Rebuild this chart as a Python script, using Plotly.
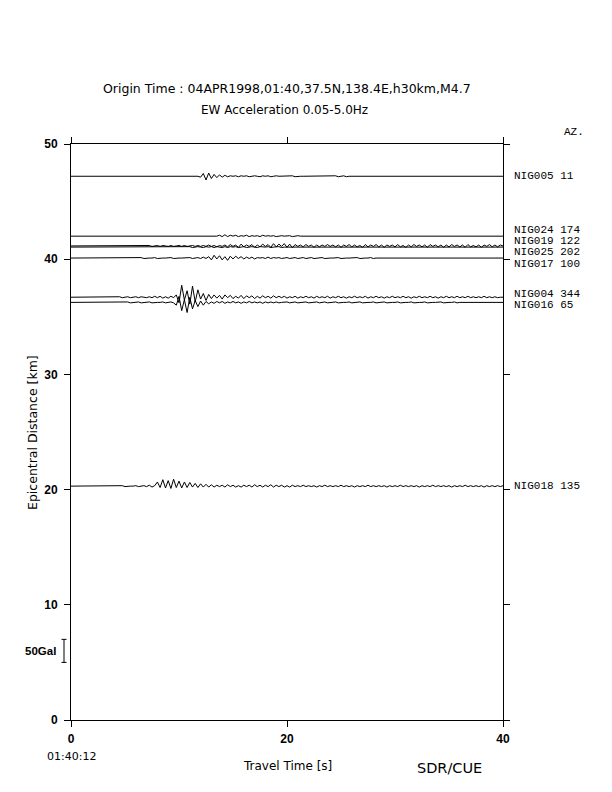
import plotly.graph_objects as go

# ---------------- data ----------------
stations = ["NIG005", "NIG024", "NIG019", "NIG025", "NIG017", "NIG004", "NIG016", "NIG018"]
azimuths = [11, 174, 122, 202, 100, 344, 65, 135]
distances_km = [47.2, 42.0, 41.15, 41.05, 40.1, 36.7, 36.25, 20.3]
onsets_s = [11.75, 13.5, 7.25, 11.0, 6.5, 4.5, 5.25, 4.5]
sample_dt = 0.25  # s

# EW acceleration samples (Gal)
acc_NIG005 = [0, -2, 6, -8, 7, -5, 4, -3, 3, -2, 2, -1,
              1, 0, 1, -1, 1, 0, 1, -1, 0, 1, 0, -1, 1, 0, 1, -1, 0, 1, 0, 0,
              0, 0, 0, 1, -1, 0, 0, 0, 0, 0, 0, 0, 0, 0, 0, 0, 0, 0, 0, 1, -1, 0, 1, -1, 0]
acc_NIG024 = [0, 2, -1, 3, -1, 2, 0, 2, -1, 1, 0, 2, -1, 1, 0, 1, -1, 2, 0, 1, 0, 1, -1, 0,
              1, 0, 0, 1, -1, 0, 1, 0, 0]
acc_NIG019 = [1, -1, 0, 1, -1, 1, 0, -1, 1, -1, 0, 1, -1, 1, -1, 0, 1, -1, 1, -1, 1, -1, 2, -1,
              1, -2, 1, -1, 2, -2,
              3, -1, 2, -3, 4, -2, 2, -1, 3, -3, 2, -2, 4, -1, 3, -3, 5, -2, 4, -1, 5, -3, 4, -4,
              3, -1,
              2, -2, 3, -1, 2, -3, 2, -2, 2, -1, 3, -1, 2, -2, 2, -3, 2, -1, 3, -2, 2, -2, 1, -3,
              3, -2, 2, -1, 3, -2, 2, -3, 2, -1, 2, -2, 3, -2, 1, -3, 2, -2, 3, -1, 2, -2, 2, -3,
              3, -1, 2, -2, 2, -3, 2, -2, 3, -1, 2, -2, 2, -3, 3, -2, 1, -2, 2, -3, 2, -1, 3, -2,
              2, -2, 2, 0]
acc_NIG025 = [1, -1, 0, 1, 0, -1, 1, 0, 1, -1, 1, 0, -1, 1, -1, 1, 0, 1, -1, 0, 1, -1, 0, 1,
              0, -1, 1, 0, 0, 1, -1, 0, 0, 1, -1, 0]
acc_NIG017 = [1, -1, 0, 0, 0, 1, -1, 0, 0, 0, 0, 1, -1, 0, 0, 0, 0, 0, 1, -1, 0, 1,
              -1, 2, -1, 3, -4, 6, -2, 5, -4, 3, -5, 4, -2, 4, -1, 3,
              -2, 2, -1, 2, -2, 1, 0, 1, -1, 2, -1, 1, 0, 1, -1, 0, 1, -1, 0, 1, -1, 0, 1, -1,
              0, 1, -1,
              0, 0, 1, -1, 0, 0, 0, 0, 1, -1, 0, 0, 0, 0, 0, 1, -1, 0, 0, 0, 1, -1, 0]
acc_NIG004 = [1, -1, 0, 1, -1, 0, 1, -1, 1, 0, -1, 1,
              -1, 2, -1, 2, -2, 1, -2, 2, -1,
              5, -12, 26, -6, 14, -15, 24, -10,
              16, -4, 8, -7, 6,
              -3, 5, -2, 4, -4, 5, -1, 4, -3, 2, -2, 4, -3, 3, -1, 3, -3, 2, -2, 3, -1, 2, -2, 3,
              -1, 2, -1, 2, -2, 1, -1, 2, -2, 1, -1, 2, -1, 1, -2, 2, -1, 1, -1, 2, -2, 1, -1, 2,
              -1, 1, -2, 1, -1, 2, -1, 1, -1, 2, -2, 1, -1, 2, -1, 1, -2, 1, -1, 2, -1, 1, -1, 2,
              -1, 1, -2, 1, -1, 2, -1, 1, -1, 2, -1, 1, -2, 1, -1, 2, -1, 1, -1, 2, -1, 1, -1, 2,
              -1, 1, -1, 1, -1, 2, -1, 1, -1, 1, -1, 0]
acc_NIG016 = [1, -1, 0, 0, 1, -1, 0, 0, 1, -1, 0, 0, 0, 1, -1, 0, 1, -1,
              -6, 13, -18, 6, -22, 11, -14,
              4, -9, 3, -6,
              2, -3, 1, -2, 2, -1, 2, -2, 1, -1, 2, -1, 1, -2, 1, -1, 2, -1, 1, -1, 1, -2, 1, -1,
              1, -1,
              1, -1, 0, 0, 1, -1, 0, 1, -1, 0, 0, 1, -1, 0, 0, 1, -1, 0, 1, -1, 0, 0, 1, -1, 0, 0,
              0, 1, -1, 0, 0, 1, -1, 0, 0, 0, 1, -1, 0, 0, 1, -1, 0, 0, 0, 1, -1, 0, 0, 0, 1, -1,
              0, 0, 0, 1, -1, 0, 0, 0, 0, 1, -1, 0, 0, 0, 1, -1, 0]
acc_NIG018 = [0, 1, -1, 0, 0, 0, 1, -1, 0, 1,
              -1, 2, -2, 1,
              9, -3, 14, -4, 12, -5, 15, -3, 11, -4, 9,
              -3, 8, -2, 6, -3, 5, -2, 4, -2,
              3, -2, 2, -1, 2, -2, 3, -1, 2, -2, 1, -2, 2, -1, 2, -2, 3, -1, 2, -2, 2, -1, 3, -2,
              2, -1, 2, -2, 1, -2, 2, -1,
              1, -1, 2, -1, 1, -1, 1, -2, 1, -1, 2, -1, 1, -1, 1, -1, 2, -1, 1, -1, 1, -2, 1, -1,
              1, -1, 2, -1, 1, -1, 1, -1, 1, -2, 1, -1, 1, -1, 2, -1, 1, -1, 1, -1, 1, -2, 1, -1,
              1, -1, 2, -1, 1, -1, 1, -1, 1, -2, 1, -1, 1, -1, 2, -1, 1, -1, 1, -1, 1, -2, 1, -1,
              1, -1, 1, -1, 1, 0]
waveforms = [acc_NIG005, acc_NIG024, acc_NIG019, acc_NIG025, acc_NIG017,
             acc_NIG004, acc_NIG016, acc_NIG018]

scale_bar_gal = 50
scale_bar_km = 2.0          # 50 Gal drawn as 2 km
scale_bar_bottom_km = 5.0
km_per_gal = scale_bar_km / scale_bar_gal

x_ticks = [0, 20, 40]
y_ticks = [0, 10, 20, 30, 40, 50]
origin_clock = "01:40:12"
title1 = "Origin Time : 04APR1998,01:40,37.5N,138.4E,h30km,M4.7"
title2 = "EW Acceleration 0.05-5.0Hz"

# ---------------- figure ----------------
fig = go.Figure()
T_END = 40.0
for name, d, t0, acc in zip(stations, distances_km, onsets_s, waveforms):
    t = [0.0] + [t0 + i * sample_dt for i in range(len(acc))]
    y = [d] + [d + a * km_per_gal for a in acc]
    if t[-1] < T_END:
        t.append(T_END)
        y.append(d)
    fig.add_trace(go.Scatter(x=t, y=y, mode="lines", name=name,
                             line=dict(color="black", width=1), showlegend=False,
                             hoverinfo="skip"))


# station labels, spread apart where they would overlap
def spread(vals, gap):
    order = sorted(range(len(vals)), key=lambda i: -vals[i])
    groups = [[i] for i in order]
    pos = {i: vals[i] for i in order}
    changed = True
    while changed:
        changed = False
        for gi in range(len(groups) - 1):
            a, b = groups[gi], groups[gi + 1]
            if pos[a[-1]] - pos[b[0]] < gap - 1e-9:
                merged = a + b
                c = sum(vals[i] for i in merged) / len(merged)
                top = c + gap * (len(merged) - 1) / 2
                for k, i in enumerate(merged):
                    pos[i] = top - k * gap
                groups[gi:gi + 2] = [merged]
                changed = True
                break
    return [pos[i] for i in range(len(vals))]


label_y = spread(distances_km, 0.98)
mono = dict(family="Liberation Mono, Courier New, monospace", size=11, color="black")
for name, az, ly in zip(stations, azimuths, label_y):
    fig.add_annotation(x=1.0, xref="paper", y=ly, yref="y", xanchor="left", yanchor="middle",
                       xshift=9, text=f"{name} {az}", showarrow=False, font=mono)
fig.add_annotation(x=1.0, xref="paper", y=1.0, yref="paper", xanchor="left", yanchor="middle",
                   xshift=59, yshift=12, text="AZ.", showarrow=False, font=mono)

sans = "DejaVu Sans, Verdana, sans-serif"
arial = "Liberation Sans, Arial, Helvetica, sans-serif"


def note(text, x, y, size, family=sans, angle=0, xanchor="center"):
    fig.add_annotation(x=x, xref="paper", y=y, yref="paper", text=text, showarrow=False,
                       xanchor=xanchor, yanchor="middle", textangle=angle,
                       font=dict(family=family, size=size, color="black"))


note(title1, 0.5, 1.0972, 12.5)
note(title2, 0.495, 1.059, 12)
note(origin_clock, 0.0, -0.0625, 11)
note("Travel Time [s]", 0.5, -0.079, 12)
note("SDR/CUE", 0.877, -0.0825, 14.5)
note("Epicentral Distance [km]", -0.0903, 0.5, 12.5, angle=-90)

# 50 Gal scale bar
bar_x = -7 / 432
cap = 2.5 / 432
y0b = scale_bar_bottom_km
y1b = scale_bar_bottom_km + scale_bar_gal * km_per_gal
fig.add_shape(type="line", xref="paper", yref="y", x0=bar_x, x1=bar_x, y0=y0b, y1=y1b,
              line=dict(color="black", width=1))
for yy in (y0b, y1b):
    fig.add_shape(type="line", xref="paper", yref="y", x0=bar_x - cap, x1=bar_x + cap,
                  y0=yy, y1=yy, line=dict(color="black", width=1))
fig.add_annotation(x=-13 / 432, xref="paper", y=(y0b + y1b) / 2, yref="y", xanchor="right",
                   yanchor="middle", text=f"<b>{scale_bar_gal}Gal</b>", showarrow=False,
                   font=dict(family=arial, size=11.5, color="black"))

tickfont = dict(family=arial, size=12, color="black")
fig.update_xaxes(range=[0, 40], tickvals=x_ticks, ticktext=[f"<b>{v}</b>" for v in x_ticks],
                 ticks="outside", ticklen=6, tickcolor="black", showline=True, linecolor="black",
                 linewidth=1, mirror="ticks", showgrid=False, zeroline=False, tickfont=tickfont,
                 ticklabelstandoff=2)
fig.update_yaxes(range=[0, 50], tickvals=y_ticks, ticktext=[f"<b>{v}</b>" for v in y_ticks],
                 ticks="outside", ticklen=6, tickcolor="black", showline=True, linecolor="black",
                 linewidth=1, mirror="ticks", showgrid=False, zeroline=False, tickfont=tickfont,
                 ticklabelstandoff=4)

# the page adds an 8px body margin, so the figure is 8px smaller and margins shifted
fig.update_layout(width=604, height=784, autosize=False,
                  margin=dict(l=63, r=109, t=136, b=72, autoexpand=False),
                  paper_bgcolor="white", plot_bgcolor="white")

fig.write_html("out.html")
